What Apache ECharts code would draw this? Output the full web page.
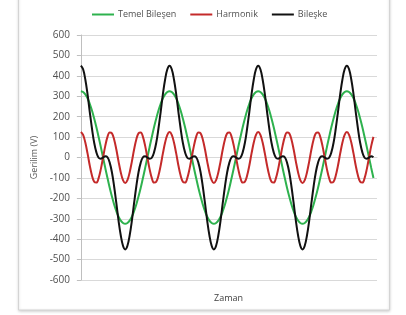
<!DOCTYPE html>
<html>
<head>
<meta charset="utf-8">
<script src="https://cdn.jsdelivr.net/npm/echarts@6/dist/echarts.min.js"></script>
<style>
html,body{margin:0;padding:0;background:#fff;}
#c{width:406px;height:315px;}
</style>
</head>
<body>
<div id="c"></div>
<script>
// time in ms (50 Hz fundamental)
var times = [0,0.5,1,1.5,2,2.5,3,3.5,4,4.5,5,5.5,6,6.5,7,7.5,8,8.5,9,9.5,
10,10.5,11,11.5,12,12.5,13,13.5,14,14.5,15,15.5,16,16.5,17,17.5,18,18.5,19,19.5,
20,20.5,21,21.5,22,22.5,23,23.5,24,24.5,25,25.5,26,26.5,27,27.5,28,28.5,29,29.5,
30,30.5,31,31.5,32,32.5,33,33.5,34,34.5,35,35.5,36,36.5,37,37.5,38,38.5,39,39.5,
40,40.5,41,41.5,42,42.5,43,43.5,44,44.5,45,45.5,46,46.5,47,47.5,48,48.5,49,49.5,
50,50.5,51,51.5,52,52.5,53,53.5,54,54.5,55,55.5,56,56.5,57,57.5,58,58.5,59,59.5,
60,60.5,61,61.5,62,62.5,63,63.5,64,64.5,65,65.5,66];

var temel = [325,321,309,290,263,230,191,148,100,51,0,-51,-100,-148,-191,-230,-263,-290,-309,-321,
-325,-321,-309,-290,-263,-230,-191,-148,-100,-51,0,51,100,148,191,230,263,290,309,321,
325,321,309,290,263,230,191,148,100,51,0,-51,-100,-148,-191,-230,-263,-290,-309,-321,
-325,-321,-309,-290,-263,-230,-191,-148,-100,-51,0,51,100,148,191,230,263,290,309,321,
325,321,309,290,263,230,191,148,100,51,0,-51,-100,-148,-191,-230,-263,-290,-309,-321,
-325,-321,-309,-290,-263,-230,-191,-148,-100,-51,0,51,100,148,191,230,263,290,309,321,
325,321,309,290,263,230,191,148,100,51,0,-51,-100];

var harmonik = [125,111,73,20,-39,-88,-119,-123,-101,-57,0,57,101,123,119,88,39,-20,-73,-111,
-125,-111,-73,-20,39,88,119,123,101,57,0,-57,-101,-123,-119,-88,-39,20,73,111,
125,111,73,20,-39,-88,-119,-123,-101,-57,0,57,101,123,119,88,39,-20,-73,-111,
-125,-111,-73,-20,39,88,119,123,101,57,0,-57,-101,-123,-119,-88,-39,20,73,111,
125,111,73,20,-39,-88,-119,-123,-101,-57,0,57,101,123,119,88,39,-20,-73,-111,
-125,-111,-73,-20,39,88,119,123,101,57,0,-57,-101,-123,-119,-88,-39,20,73,111,
125,111,73,20,-39,-88,-119,-123,-101,-57,0,57,101];

var bileske = [450,432,382,310,224,142,72,25,-1,-6,0,6,1,-25,-72,-142,-224,-310,-382,-432,
-450,-432,-382,-310,-224,-142,-72,-25,1,6,0,-6,-1,25,72,142,224,310,382,432,
450,432,382,310,224,142,72,25,-1,-6,0,6,1,-25,-72,-142,-224,-310,-382,-432,
-450,-432,-382,-310,-224,-142,-72,-25,1,6,0,-6,-1,25,72,142,224,310,382,432,
450,432,382,310,224,142,72,25,-1,-6,0,6,1,-25,-72,-142,-224,-310,-382,-432,
-450,-432,-382,-310,-224,-142,-72,-25,1,6,0,-6,-1,25,72,142,224,310,382,432,
450,432,382,310,224,142,72,25,-1,-6,0,6,1];

var seriesNames = ['Temel Bileşen','Harmonik','Bileşke'];
var yTicks = {min:-600, max:600, interval:100};

function pairs(vals){
  var out = [];
  for (var i = 0; i < vals.length; i++) out.push([times[i], vals[i]]);
  return out;
}

var chart = echarts.init(document.getElementById('c'), null, {renderer:'canvas'});
var font = 'Open Sans';
chart.setOption({
  animation:false,
  backgroundColor:'#ffffff',
  graphic:[{
    type:'rect', z:-10, silent:true,
    shape:{x:18.5, y:-10, width:371, height:320},
    style:{fill:'#ffffff', stroke:'#d4d4d4', lineWidth:1, shadowBlur:3, shadowColor:'rgba(0,0,0,0.18)', shadowOffsetY:1}
  }],
  legend:{
    left:87, top:5,
    itemWidth:22, itemHeight:2, itemGap:14,
    icon:'rect',
    textStyle:{fontFamily:font, fontSize:9, color:'#505050', padding:[0,0,0,-1]},
    data:seriesNames
  },
  grid:{left:80, right:29, top:35, bottom:35, containLabel:false},
  xAxis:{
    type:'value', min:-0.2, max:66.8,
    name:'Zaman', nameLocation:'middle', nameGap:14,
    nameTextStyle:{fontFamily:font, fontSize:9, color:'#404040'},
    axisLine:{show:true, lineStyle:{color:'#d9d9d9', width:1}},
    axisTick:{show:false}, axisLabel:{show:false}, splitLine:{show:false}
  },
  yAxis:{
    type:'value', min:yTicks.min, max:yTicks.max, interval:yTicks.interval,
    name:'Gerilim (V)', nameLocation:'middle', nameGap:40, nameRotate:90,
    nameTextStyle:{fontFamily:font, fontSize:9, color:'#595959'},
    axisLine:{show:true, lineStyle:{color:'#bfbfbf', width:1}},
    axisTick:{show:true, length:4, lineStyle:{color:'#bfbfbf'}},
    axisLabel:{fontFamily:font, fontSize:10, color:'#505050', margin:10},
    splitLine:{show:true, lineStyle:{color:'#d9d9d9', width:1}}
  },
  series:[
    {name:seriesNames[0], type:'line', data:pairs(temel), showSymbol:false, symbol:'none', smooth:0.4,
     lineStyle:{color:'#2eb24e', width:2}, itemStyle:{color:'#2eb24e'}},
    {name:seriesNames[1], type:'line', data:pairs(harmonik), showSymbol:false, symbol:'none', smooth:0.4,
     lineStyle:{color:'#c42a2a', width:2}, itemStyle:{color:'#c42a2a'}},
    {name:seriesNames[2], type:'line', data:pairs(bileske), showSymbol:false, symbol:'none', smooth:0.4,
     lineStyle:{color:'#111111', width:2}, itemStyle:{color:'#111111'}}
  ]
});
</script>
</body>
</html>
